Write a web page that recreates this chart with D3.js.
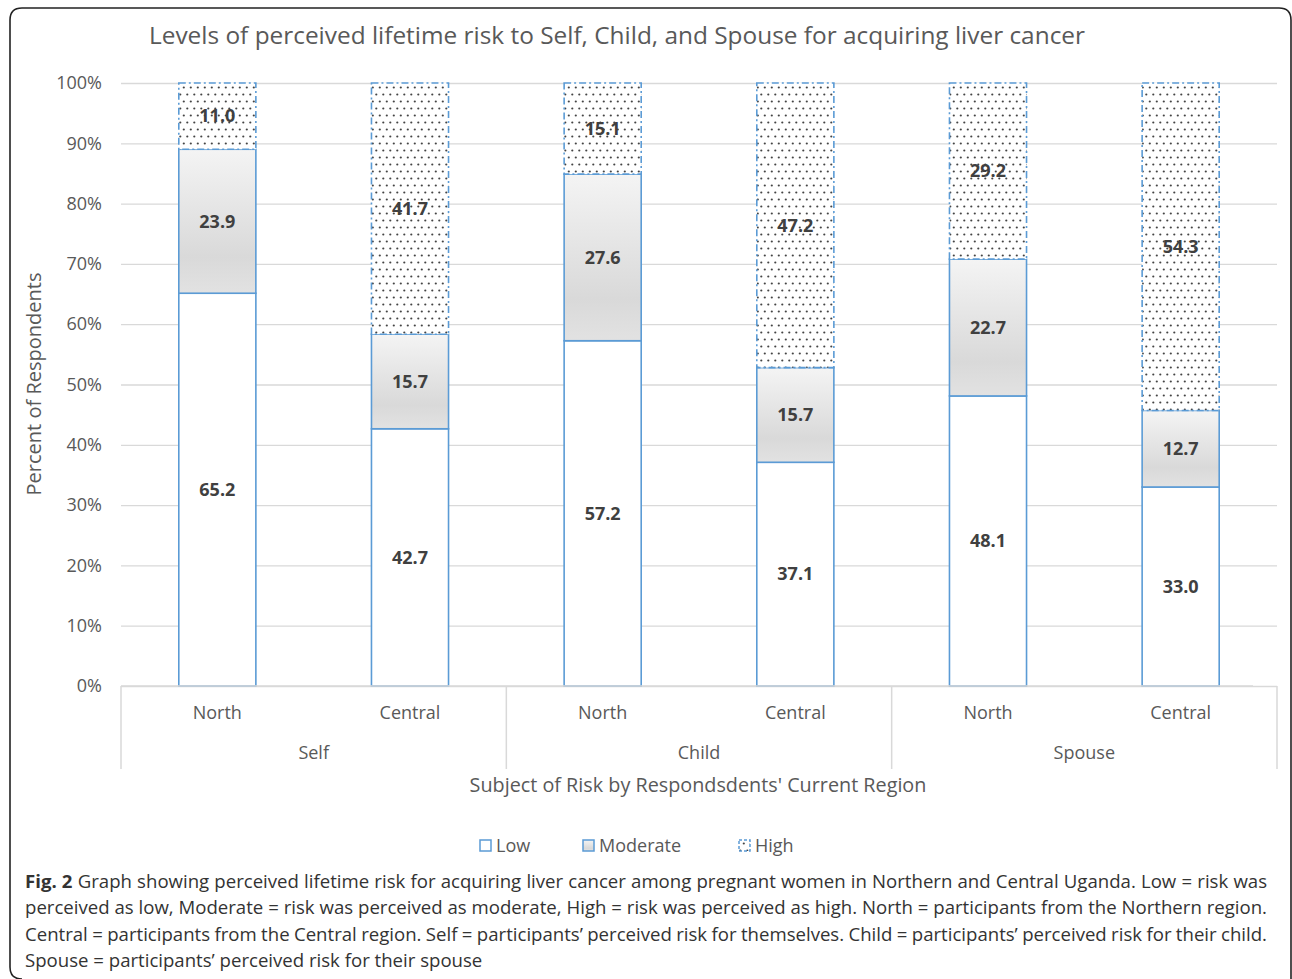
<html>
<head>
    <script src="https://d3js.org/d3.v7.min.js"></script>
    <style>
        body { margin: 0; background: #fff; }
        text { font-family: "Open Sans", sans-serif; }
        .gridlines line { stroke: #d9d9d9; stroke-width: 1.3; }
        .gridlines .domain { stroke: none; }
        .y.axis .domain, .y.axis line { stroke: none; }
        .y.axis text { fill: #595959; font-size: 18px; font-family: "Open Sans", sans-serif; }
    </style>
</head>
<body>
<svg width="1292" height="979"></svg>
<script>
    const categories = ["North", "Central", "North", "Central", "North", "Central"];
    const groups = ["Self", "Child", "Spouse"];
    const lowVals = [65.2, 42.7, 57.2, 37.1, 48.1, 33.0];
    const moderateVals = [23.9, 15.7, 27.6, 15.7, 22.7, 12.7];
    const highVals = [11.0, 41.7, 15.1, 47.2, 29.2, 54.3];
    const seriesNames = ["Low", "Moderate", "High"];
    const yTicks = [0, 0.1, 0.2, 0.3, 0.4, 0.5, 0.6, 0.7, 0.8, 0.9, 1];
    const captionLines = [
        ["Fig. 2", " Graph showing perceived lifetime risk for acquiring liver cancer among pregnant women in Northern and Central Uganda. Low = risk was"],
        ["", "perceived as low, Moderate = risk was perceived as moderate, High = risk was perceived as high. North = participants from the Northern region."],
        ["", "Central = participants from the Central region. Self = participants\u2019 perceived risk for themselves. Child = participants\u2019 perceived risk for their child."],
        ["", "Spouse = participants\u2019 perceived risk for their spouse"]
    ];

    const svg = d3.select("svg");
    const margins = { top: 83, left: 121, right: 1277, bottom: 686 };
    const blue = "#5b9bd5";

    // table for stacking
    const rows = categories.map((c, i) => ({
        key: i, cat: c,
        Low: lowVals[i], Moderate: moderateVals[i], High: highVals[i]
    }));
    const stack = d3.stack().keys(seriesNames).offset(d3.stackOffsetExpand);
    const stacked = stack(rows);

    const xScale = d3.scaleBand().domain(d3.range(categories.length))
        .range([margins.left, margins.right]).paddingInner(0.6).paddingOuter(0.3);
    const yScale = d3.scaleLinear().domain([0, 1]).range([margins.bottom, margins.top]);

    const defs = svg.append("defs");
    const grad = defs.append("linearGradient").attr("id", "modGrad")
        .attr("x1", 0).attr("y1", 0).attr("x2", 0).attr("y2", 1);
    grad.append("stop").attr("offset", "0%").attr("stop-color", "#f4f4f4");
    grad.append("stop").attr("offset", "75%").attr("stop-color", "#d9d9d9");
    grad.append("stop").attr("offset", "100%").attr("stop-color", "#e2e2e2");

    const pat = defs.append("pattern").attr("id", "dots")
        .attr("patternUnits", "userSpaceOnUse").attr("width", 7).attr("height", 14);
    pat.append("rect").attr("width", 7).attr("height", 14).attr("fill", "#fff");
    pat.append("circle").attr("cx", 1.8).attr("cy", 3.5).attr("r", 1.1).attr("fill", "#444");
    pat.append("circle").attr("cx", 5.3).attr("cy", 10.5).attr("r", 1.1).attr("fill", "#444");

    // frame
    svg.append("path")
        .attr("d", "M 22,979 Q 10,979 10,967 L 10,20 Q 10,8 22,8 L 1279,8 Q 1291,8 1291,20 L 1291,979")
        .attr("fill", "none").attr("stroke", "#222").attr("stroke-width", 1.6);

    // title
    svg.append("text").attr("x", 617).attr("y", 44).attr("text-anchor", "middle")
        .attr("font-size", 24.4).attr("fill", "#595959")
        .text("Levels of perceived lifetime risk to Self, Child, and Spouse for acquiring liver cancer");

    // gridlines
    svg.append("g").attr("class", "gridlines")
        .attr("transform", `translate(${margins.left},0)`)
        .call(d3.axisLeft(yScale).tickValues(yTicks).tickFormat("").tickSize(-(margins.right - margins.left)));

    svg.append("g").attr("class", "y axis")
        .attr("transform", `translate(${margins.left - 10},0)`)
        .call(d3.axisLeft(yScale).tickValues(yTicks).tickFormat(d3.format(".0%")).tickSize(0).tickPadding(9));

    // bars
    const fills = { Low: "#ffffff", Moderate: "url(#modGrad)", High: "url(#dots)" };
    const dashes = { Low: null, Moderate: null, High: "7,3,2,3" };
    stacked.forEach(s => {
        const g = svg.append("g");
        g.selectAll("rect").data(s).join("rect")
            .attr("x", d => xScale(d.data.key))
            .attr("y", d => yScale(d[1]))
            .attr("width", xScale.bandwidth())
            .attr("height", d => yScale(d[0]) - yScale(d[1]))
            .attr("fill", fills[s.key])
            .attr("stroke", blue).attr("stroke-width", 1.6)
            .attr("stroke-dasharray", dashes[s.key]);
    });
    stacked.forEach(s => {
        svg.append("g").selectAll("text").data(s).join("text")
            .attr("x", d => xScale(d.data.key) + xScale.bandwidth() / 2)
            .attr("y", d => (yScale(d[0]) + yScale(d[1])) / 2)
            .attr("dy", "0.35em").attr("text-anchor", "middle")
            .attr("font-size", 18).attr("font-weight", "bold").attr("fill", "#404040")
            .text(d => d.data[s.key].toFixed(1));
    });

    // category axis
    const groupW = (margins.right - margins.left) / groups.length;
    svg.append("line").attr("x1", margins.left).attr("x2", margins.right - 24)
        .attr("y1", margins.bottom).attr("y2", margins.bottom)
        .attr("stroke", "#d9d9d9").attr("stroke-width", 1.3);
    d3.range(groups.length + 1).forEach(i => {
        svg.append("line").attr("x1", margins.left + i * groupW).attr("x2", margins.left + i * groupW)
            .attr("y1", margins.bottom).attr("y2", 769)
            .attr("stroke", "#d9d9d9").attr("stroke-width", 1.5);
    });
    svg.append("g").selectAll("text").data(categories).join("text")
        .attr("x", (d, i) => xScale(i) + xScale.bandwidth() / 2).attr("y", 719)
        .attr("text-anchor", "middle").attr("font-size", 18).attr("fill", "#595959")
        .text(d => d);
    svg.append("g").selectAll("text").data(groups).join("text")
        .attr("x", (d, i) => margins.left + (i + 0.5) * groupW).attr("y", 759)
        .attr("text-anchor", "middle").attr("font-size", 18).attr("fill", "#595959")
        .text(d => d);

    svg.append("text").attr("x", 698).attr("y", 792).attr("text-anchor", "middle")
        .attr("font-size", 19.8).attr("fill", "#595959")
        .text("Subject of Risk by Respondsdents' Current Region");
    svg.append("text").attr("transform", "translate(41,384) rotate(-90)").attr("text-anchor", "middle")
        .attr("font-size", 20).attr("fill", "#595959")
        .text("Percent of Respondents");

    // legend
    const legX = [480, 583, 739];
    seriesNames.forEach((name, i) => {
        svg.append("rect").attr("x", legX[i]).attr("y", 840).attr("width", 11).attr("height", 11)
            .attr("fill", fills[name]).attr("stroke", blue).attr("stroke-width", 1.5)
            .attr("stroke-dasharray", name === "High" ? "3,2" : null);
        svg.append("text").attr("x", legX[i] + 16).attr("y", 852)
            .attr("font-size", 18).attr("fill", "#595959").text(name);
    });

    // caption, justified
    const capY = [888, 914, 941, 967];
    captionLines.forEach((ln, i) => {
        const t = svg.append("text").attr("x", 25).attr("y", capY[i])
            .attr("font-size", 18.6).attr("fill", "#333");
        if (ln[0]) t.append("tspan").attr("font-weight", "bold").text(ln[0]);
        t.append("tspan").text(ln[1]);
        if (i < captionLines.length - 1) {
            const w = t.node().getComputedTextLength();
            const spaces = (ln[0] + ln[1]).split(" ").length - 1;
            t.attr("word-spacing", (1267 - 25 - w) / spaces);
        }
    });
</script>
</body>
</html>
